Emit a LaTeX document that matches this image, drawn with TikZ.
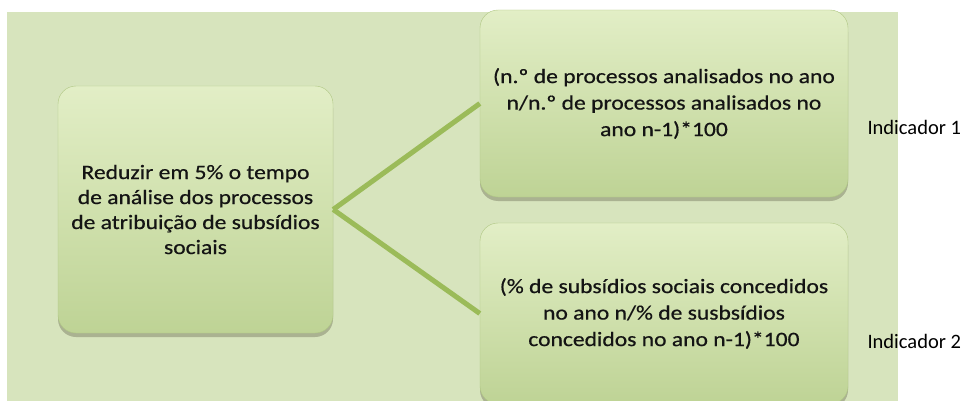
\documentclass[tikz,border=0pt]{standalone}
\usepackage{fontspec}
\setmainfont{Carlito}[FakeStretch=1.15,FakeBold=0.6]
\newfontfamily\labelfont{Carlito}
\usetikzlibrary{shadows}

\definecolor{bggreen}{HTML}{D7E4BD}
\definecolor{boxtop}{HTML}{E2EEC6}
\definecolor{boxbottom}{HTML}{BED395}
\definecolor{boxedge}{HTML}{AFC683}
\definecolor{linkgreen}{HTML}{9BBB59}
\definecolor{textdark}{HTML}{141414}

\begin{document}
\begin{tikzpicture}[x=1pt,y=-1pt]

      \useasboundingbox (0,0) rectangle (963,401);
      \fill[bggreen] (7,12) rectangle (898,401);

      \begin{scope}[every node/.style={rounded corners=18pt,draw=boxedge,
          top color=boxtop,bottom color=boxbottom,align=center,text=textdark,
          drop shadow={shadow xshift=0pt,shadow yshift=-4pt,opacity=0.3,fill=black!70!olive}}]
        \node (goal) at (195.5,209.5) [minimum width=275pt,minimum height=247pt,
          font=\fontsize{20.5}{25}\selectfont]
          {Reduzir em 5\% o tempo\\de análise dos processos\\de atribuição de subsídios\\sociais};
        \node (ind1) at (664,103.5) [minimum width=368pt,minimum height=187pt,
          font=\fontsize{20.5}{26.5}\selectfont]
          {(n.º de processos analisados no ano\\n/n.º de processos analisados no\\ano n-1)*100};
        \node (ind2) at (664,313.5) [minimum width=368pt,minimum height=181pt,
          font=\fontsize{20.5}{26.5}\selectfont]
          {(\% de subsídios sociais concedidos\\no ano n/\% de susbsídios\\concedidos no ano n-1)*100};
      \end{scope}

      \begin{scope}[every edge/.style={draw=linkgreen,line width=5pt}]
        \path (goal.east) edge (ind1.west);
        \path (goal.east) edge (ind2.west);
      \end{scope}

      \begin{scope}[every node/.style={anchor=base west,font=\labelfont\fontsize{20.5}{24}\selectfont}]
        \node (lab1) at (864,135) {Indicador 1};
        \node (lab2) at (864,348) {Indicador 2};
      \end{scope}

    \end{tikzpicture}
\end{document}
